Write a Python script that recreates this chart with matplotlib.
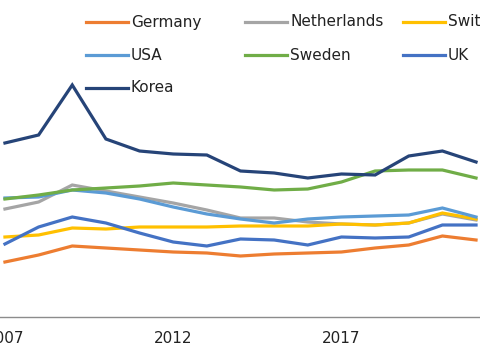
import matplotlib
matplotlib.use("Agg")
import matplotlib.pyplot as plt
from matplotlib.lines import Line2D

# values (arbitrary units, no y axis shown)
years = list(range(2007, 2022))
germany = [5.5, 6.2, 7.1, 6.9, 6.7, 6.5, 6.4, 6.1, 6.3, 6.4, 6.5, 6.9, 7.2, 8.1, 7.7]
netherlands = [10.8, 11.5, 13.2, 12.6, 12.0, 11.4, 10.7, 9.9, 9.9, 9.5, 9.3, 9.2, 9.4, 10.3, 9.7]
switzerland = [8.0, 8.2, 8.9, 8.8, 9.0, 9.0, 9.0, 9.1, 9.1, 9.1, 9.3, 9.2, 9.4, 10.4, 9.8]
usa = [11.9, 12.0, 12.7, 12.4, 11.8, 11.0, 10.3, 9.8, 9.4, 9.8, 10.0, 10.1, 10.2, 10.9, 10.0]
sweden = [11.8, 12.2, 12.7, 12.9, 13.1, 13.4, 13.2, 13.0, 12.7, 12.8, 13.5, 14.6, 14.7, 14.7, 13.9]
uk = [7.3, 9.0, 10.0, 9.4, 8.4, 7.5, 7.1, 7.8, 7.7, 7.2, 8.0, 7.9, 8.0, 9.2, 9.2]
korea = [17.4, 18.2, 23.2, 17.8, 16.6, 16.3, 16.2, 14.6, 14.4, 13.9, 14.3, 14.2, 16.1, 16.6, 15.5]

series = [
    ("Germany", germany, "#ED7D31"),
    ("Netherlands", netherlands, "#A5A5A5"),
    ("Switzerland", switzerland, "#FFC000"),
    ("USA", usa, "#5B9BD5"),
    ("Sweden", sweden, "#70AD47"),
    ("UK", uk, "#4472C4"),
    ("Korea", korea, "#264478"),
]

W, H = 480, 361
fig = plt.figure(figsize=(W / 100, H / 100), dpi=100)
ax = fig.add_axes([0, 1 - 317 / H, 1, 317 / H])

for name, vals, col in series:
    ax.plot(years, vals, color=col, lw=2.3, solid_joinstyle="miter", clip_on=True)

ax.set_xlim(2007 - 5 / 34, 2007 + 480 / 34)
ax.set_ylim(0, 31.7)
ax.set_xticks([2007, 2012, 2017])
ax.tick_params(axis="x", length=0, pad=10, labelsize=11, labelcolor="#222222")
ax.set_yticks([])
for side in ("top", "right", "left"):
    ax.spines[side].set_visible(False)
ax.spines["bottom"].set_color("#8c8c8c")
ax.spines["bottom"].set_linewidth(1.0)

# legend laid out by hand, three per row, running off the right edge
rows_y = [22, 55, 88]
cols_x = [86, 245, 403]
for i, (name, vals, col) in enumerate(series):
    r, c = divmod(i, 3)
    y = 1 - rows_y[r] / H
    x0 = cols_x[c] / W
    x1 = (cols_x[c] + 42) / W
    fig.add_artist(Line2D([x0, x1], [y, y], color=col, lw=2.3, transform=fig.transFigure))
    fig.text((cols_x[c] + 45) / W, y, name, fontsize=11, color="#222222",
             va="center", ha="left")

fig.savefig("out.png", dpi=100)
